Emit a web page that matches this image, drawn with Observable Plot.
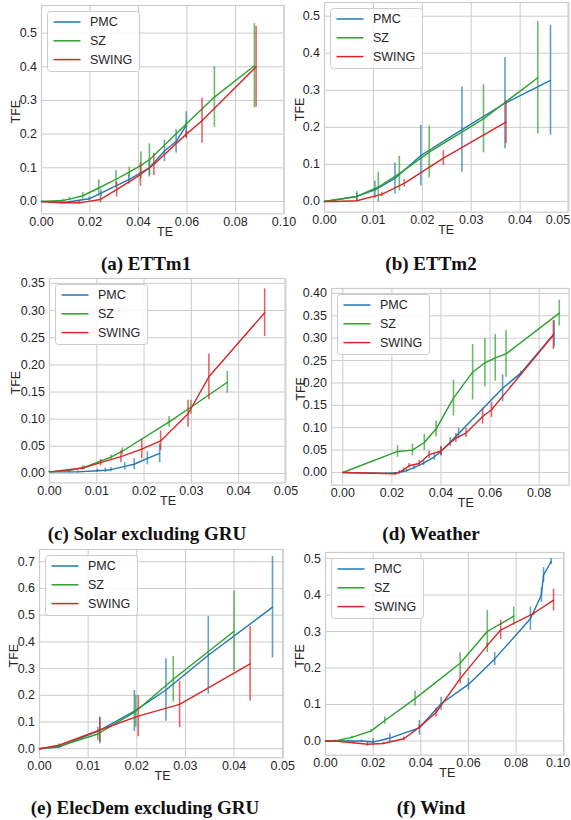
<!DOCTYPE html>
<html><head><meta charset="utf-8">
<script src="https://cdn.jsdelivr.net/npm/d3@7"></script>
<script src="https://cdn.jsdelivr.net/npm/@observablehq/plot@0.6"></script>
<style>
body{margin:0;background:#fff;}
#page{position:relative;width:571px;height:820px;overflow:hidden;background:#fff;}
.panel{position:absolute;}
.panel svg{overflow:visible;max-width:none !important;display:block;}
.cap{position:absolute;font-family:"Liberation Serif","Times New Roman",serif;font-weight:bold;font-size:19px;color:#111;white-space:nowrap;transform:translate(-50%,-50%);line-height:1;}
</style></head><body><div id="page"></div>
<script>
// ---- series ----
const seriesNames = ["PMC", "SZ", "SWING"];
const seriesColors = ["#1f77b4", "#2ca02c", "#d62728"];

// each point: [TE, TFE, error]
const ettm1_PMC = [[0,0,0],[0.0094,-0.003,0.003],[0.0197,0.008,0.006],[0.0245,0.025,0.01],[0.036,0.065,0.014],[0.0445,0.100,0.027],[0.0507,0.150,0.032],[0.0555,0.178,0.035],[0.0597,0.226,0.04]];
const ettm1_SZ = [[0,0,0],[0.0087,0.003,0.004],[0.0115,0.007,0.005],[0.017,0.017,0.01],[0.0236,0.040,0.024],[0.0307,0.066,0.026],[0.0362,0.087,0.015],[0.041,0.107,0.04],[0.0445,0.124,0.047],[0.0597,0.23,0.01],[0.0713,0.31,0.09],[0.0878,0.403,0.125]];
const ettm1_SWING = [[0,0,0],[0.008,-0.004,0.003],[0.0156,-0.004,0.004],[0.0243,0.006,0.01],[0.031,0.035,0.022],[0.0408,0.08,0.035],[0.0463,0.11,0.033],[0.0597,0.20,0.01],[0.0662,0.24,0.067],[0.0885,0.40,0.12]];

const ettm2_PMC = [[0,0,0],[0.0066,0.0135,0.013],[0.0103,0.031,0.024],[0.0144,0.062,0.042],[0.0197,0.124,0.082],[0.0281,0.194,0.115],[0.0369,0.265,0.123],[0.0462,0.327,0.148]];
const ettm2_SZ = [[0,0,0],[0.0066,0.0135,0.008],[0.011,0.039,0.04],[0.0153,0.075,0.047],[0.0214,0.133,0.07],[0.0325,0.223,0.092],[0.0436,0.334,0.152]];
const ettm2_SWING = [[0,0,0],[0.0022,0,0.002],[0.0066,0.002,0.003],[0.0117,0.019,0.006],[0.0163,0.049,0.01],[0.0243,0.117,0.02],[0.0371,0.214,0.058]];

const solar_PMC = [[0,0.003,0.001],[0.0024,0.003,0.001],[0.0042,0.003,0.002],[0.006,0.003,0.002],[0.0101,0.005,0.003],[0.0118,0.006,0.004],[0.013,0.007,0.004],[0.0159,0.013,0.007],[0.0179,0.017,0.01],[0.0207,0.028,0.012],[0.0233,0.037,0.017]];
const solar_SZ = [[0,0.003,0.001],[0.0038,0.005,0.002],[0.0073,0.011,0.003],[0.013,0.030,0.004],[0.0154,0.041,0.006],[0.0253,0.095,0.01],[0.0299,0.122,0.013],[0.0376,0.168,0.02]];
const solar_SWING = [[0,0.003,0.001],[0.007,0.01,0.004],[0.0108,0.02,0.006],[0.0151,0.031,0.011],[0.0195,0.045,0.018],[0.0235,0.06,0.018],[0.0293,0.11,0.025],[0.0337,0.178,0.042],[0.0455,0.296,0.044]];

const weather_PMC = [[0,0,0],[0.0176,-0.002,0.002],[0.023,0,0.004],[0.026,0.004,0.004],[0.029,0.011,0.005],[0.0329,0.021,0.006],[0.0373,0.035,0.008],[0.04,0.047,0.01],[0.0438,0.068,0.01],[0.0472,0.087,0.012],[0.0651,0.188,0.03],[0.0725,0.222,0.004],[0.0861,0.31,0.03]];
const weather_SZ = [[0,0,0],[0.0223,0.047,0.013],[0.0284,0.05,0.013],[0.0332,0.067,0.018],[0.038,0.097,0.018],[0.0451,0.166,0.04],[0.0529,0.224,0.062],[0.0579,0.245,0.054],[0.0621,0.256,0.052],[0.0665,0.265,0.052],[0.0882,0.356,0.029]];
const weather_SWING = [[0,0,0],[0.0214,-0.003,0.003],[0.0248,0.006,0.004],[0.027,0.015,0.005],[0.0311,0.02,0.007],[0.0352,0.04,0.008],[0.04,0.048,0.01],[0.0461,0.077,0.01],[0.0502,0.088,0.01],[0.057,0.125,0.017],[0.0606,0.14,0.017],[0.0858,0.307,0.032]];

const elec_PMC = [[0,0,0],[0.004,0.006,0.004],[0.0124,0.069,0.05],[0.0195,0.141,0.077],[0.026,0.22,0.117],[0.0347,0.35,0.145],[0.0479,0.53,0.19]];
const elec_SZ = [[0,0,0],[0.004,0.009,0.004],[0.012,0.055,0.025],[0.0198,0.14,0.06],[0.0275,0.26,0.085],[0.04,0.44,0.15]];
const elec_SWING = [[0,0,0],[0.004,0.013,0.005],[0.0124,0.07,0.045],[0.0203,0.122,0.077],[0.0288,0.166,0.087],[0.0433,0.318,0.14]];

const wind_PMC = [[0,0,0],[0.0096,0,0.002],[0.0151,0,0.003],[0.02,-0.003,0.01],[0.027,0.008,0.012],[0.0394,0.036,0.02],[0.0485,0.102,0.018],[0.06,0.155,0.016],[0.071,0.225,0.018],[0.086,0.335,0.032],[0.0906,0.40,0.02],[0.0915,0.455,0.02],[0.0947,0.492,0.008]];
const wind_SZ = [[0,0,0],[0.004,0,0.002],[0.011,0.01,0.003],[0.019,0.027,0.004],[0.0249,0.056,0.01],[0.0376,0.116,0.02],[0.0565,0.213,0.029],[0.0679,0.30,0.058],[0.079,0.342,0.025]];
const wind_SWING = [[0,0,0],[0.004,0,0.002],[0.0117,-0.005,0.003],[0.0176,-0.009,0.005],[0.0242,-0.007,0.003],[0.0329,0.006,0.005],[0.0394,0.038,0.006],[0.0464,0.078,0.012],[0.0565,0.171,0.015],[0.0679,0.262,0.005],[0.0735,0.304,0.026],[0.0874,0.35,0.005],[0.0957,0.386,0.03]];

// ---- ticks ----
const xTicks_a = [0,0.02,0.04,0.06,0.08,0.10];
const xTicks_b = [0,0.01,0.02,0.03,0.04,0.05];
const xTicks_c = [0,0.01,0.02,0.03,0.04,0.05];
const xTicks_d = [0,0.02,0.04,0.06,0.08];
const xTicks_e = [0,0.01,0.02,0.03,0.04,0.05];
const xTicks_f = [0,0.02,0.04,0.06,0.08,0.10];
const yTicks_a = [0,0.1,0.2,0.3,0.4,0.5];
const yTicks_b = [0,0.1,0.2,0.3,0.4,0.5];
const yTicks_c = [0,0.05,0.10,0.15,0.20,0.25,0.30,0.35];
const yTicks_d = [0,0.05,0.10,0.15,0.20,0.25,0.30,0.35,0.40];
const yTicks_e = [0,0.1,0.2,0.3,0.4,0.5,0.6,0.7];
const yTicks_f = [0,0.1,0.2,0.3,0.4,0.5];

const captions = ["(a) ETTm1","(b) ETTm2","(c) Solar excluding GRU","(d) Weather","(e) ElecDem excluding GRU","(f) Wind"];
const xLabel = "TE", yLabel = "TFE";

// ---- layout ----
const panels = [
 {data:[ettm1_PMC,ettm1_SZ,ettm1_SWING], frame:[40.5,5,283,213.3], xd:[0,0.1], yd:[-0.0366,0.582], xt:xTicks_a, yt:yTicks_a, yf:".1f", cap:[146,263], teX:164, tfeX:15},
 {data:[ettm2_PMC,ettm2_SZ,ettm2_SWING], frame:[324.4,2,568,211.7], xd:[0,0.0498], yd:[-0.029,0.537], xt:xTicks_b, yt:yTicks_b, yf:".1f", cap:[431,263], teX:446, tfeX:300},
 {data:[solar_PMC,solar_SZ,solar_SWING], frame:[48.5,278.3,284,482.7], xd:[0,0.0498], yd:[-0.0173,0.359], xt:xTicks_c, yt:yTicks_c, yf:".2f", cap:[147,533], teX:167, tfeX:15},
 {data:[weather_PMC,weather_SZ,weather_SWING], frame:[330.7,288.3,568.3,485], xd:[-0.0046,0.0922], yd:[-0.0284,0.411], xt:xTicks_d, yt:yTicks_d, yf:".2f", cap:[431,533], teX:465, tfeX:300},
 {data:[elec_PMC,elec_SZ,elec_SWING], frame:[39,549,282.7,757.3], xd:[0,0.0501], yd:[-0.034,0.746], xt:xTicks_e, yt:yTicks_e, yf:".1f", cap:[145,807], teX:162, tfeX:13},
 {data:[wind_PMC,wind_SZ,wind_SWING], frame:[325.2,552.3,563.5,755], xd:[0,0.1], yd:[-0.039,0.5166], xt:xTicks_f, yt:yTicks_f, yf:".1f", cap:[431,807], teX:447, tfeX:300}
];

const page = document.getElementById("page");
const mL = 50, mR = 14, mT = 6, mB = 34;
const FONT = "Liberation Sans, Arial, Helvetica, sans-serif";
const TXT = "#262626";
const GRID = "#cccccc";
const FS = 12.5;
const PAGE_RIGHT = 570;

panels.forEach((p, k) => {
  const [x0,y0,x1,y1] = p.frame;
  const W = x1 - x0 + mL + mR, H = y1 - y0 + mT + mB;
  const px = t => x0 + (t - p.xd[0]) / (p.xd[1] - p.xd[0]) * (x1 - x0);
  // labels that would run past the page edge are end-anchored so they stay whole
  const halfLabel = 12.2;
  const inner = p.xt.filter(t => px(t) + halfLabel <= PAGE_RIGHT);
  const edge = p.xt.filter(t => px(t) + halfLabel > PAGE_RIGHT);
  const fmtX = d3.format(".2f");
  const marks = [
    Plot.gridX(p.xt, {stroke: GRID, strokeOpacity: 1, strokeWidth: 1}),
    Plot.gridY(p.yt, {stroke: GRID, strokeOpacity: 1, strokeWidth: 1}),
    Plot.frame({stroke: GRID, strokeWidth: 1.2}),
    Plot.axisX({ticks: inner, tickSize: 0, tickPadding: 3, tickFormat: fmtX, label: null, fontSize: FS, fill: TXT}),
    Plot.axisY({ticks: p.yt, tickSize: 0, tickPadding: 4.5, tickFormat: d3.format(p.yf), label: null, fontSize: FS, fill: TXT})
  ];
  edge.forEach(t => {
    marks.push(Plot.axisX({ticks: [t], tickSize: 0, tickPadding: 3, tickFormat: fmtX, label: null, fontSize: FS, fill: TXT,
      textAnchor: "end", dx: PAGE_RIGHT - px(t)}));
  });
  seriesNames.forEach((s, i) => {
    marks.push(Plot.line(p.data[i], {x: d => d[0], y: d => d[1], stroke: seriesColors[i], strokeWidth: 1.4}));
    marks.push(Plot.ruleX(p.data[i], {x: d => d[0], y1: d => d[1] - d[2], y2: d => d[1] + d[2], stroke: seriesColors[i], strokeWidth: 1.6, strokeOpacity: 0.7}));
  });
  marks.push(Plot.text([xLabel], {frameAnchor: "bottom", lineAnchor: "middle", textAnchor: "middle", dy: 18, dx: p.teX - (x0 + x1) / 2, fontSize: FS, fill: TXT}));
  marks.push(Plot.text([yLabel], {frameAnchor: "left", lineAnchor: "middle", textAnchor: "middle", dx: p.tfeX - x0, dy: 2, rotate: -90, fontSize: FS, fill: TXT}));

  const chart = Plot.plot({
    width: W, height: H,
    marginLeft: mL, marginRight: mR, marginTop: mT, marginBottom: mB,
    style: {fontFamily: FONT, fontSize: FS + "px", color: TXT, background: "transparent", overflow: "visible", maxWidth: "none"},
    x: {domain: p.xd}, y: {domain: p.yd},
    marks
  });

  // legend
  const svg = d3.select(chart);
  const g = svg.append("g").attr("transform", `translate(${mL + 6.5},${mT + 6.5})`)
    .attr("font-family", FONT).attr("font-size", FS).attr("text-anchor", "start");
  g.append("rect").attr("width", 92).attr("height", 60).attr("rx", 3)
    .attr("fill", "#fff").attr("fill-opacity", 0.85).attr("stroke", GRID);
  seriesNames.forEach((s, i) => {
    const yy = 10.5 + i * 18.8;
    g.append("line").attr("x1", 6).attr("x2", 33).attr("y1", yy).attr("y2", yy)
      .attr("stroke", seriesColors[i]).attr("stroke-width", 1.5);
    g.append("text").attr("x", 42.5).attr("y", yy).attr("dy", "0.35em")
      .attr("text-anchor", "start").attr("fill", TXT).text(s);
  });

  const div = document.createElement("div");
  div.className = "panel";
  div.style.left = (x0 - mL) + "px";
  div.style.top = (y0 - mT) + "px";
  div.style.width = W + "px";
  div.style.height = H + "px";
  div.appendChild(chart);
  page.appendChild(div);

  const cap = document.createElement("div");
  cap.className = "cap";
  cap.style.left = p.cap[0] + "px";
  cap.style.top = p.cap[1] + "px";
  cap.textContent = captions[k];
  page.appendChild(cap);
});
</script></body></html>
